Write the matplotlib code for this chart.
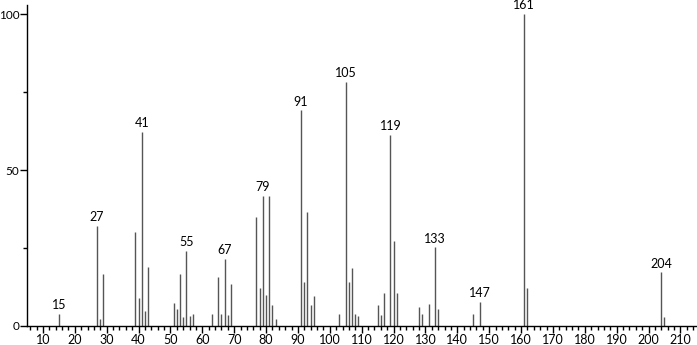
import matplotlib.pyplot as plt
from matplotlib.ticker import MultipleLocator

# m/z and relative abundance
mz = [15, 27, 28, 29, 39, 40, 41, 42, 43,
      51, 52, 53, 54, 55, 56, 57, 63, 65, 66, 67, 68, 69,
      77, 78, 79, 80, 81, 82, 83, 91, 92, 93, 94, 95,
      103, 105, 106, 107, 108, 109, 115, 116, 117, 119, 120, 121,
      128, 129, 131, 133, 134, 145, 147, 161, 162, 204, 205]
intensity = [3.8, 32.0, 2.2, 16.7, 30.0, 9.0, 62.3, 4.9, 19.0,
             7.4, 5.5, 16.7, 2.8, 24.1, 3.2, 3.8, 4.0, 15.8, 3.8, 21.5, 3.4, 13.5,
             35.0, 12.2, 41.6, 10.0, 41.6, 6.7, 2.2, 69.1, 14.1, 36.6, 6.6, 9.6,
             3.8, 78.2, 14.1, 18.7, 3.8, 3.2, 6.6, 3.4, 10.6, 61.3, 27.2, 10.5,
             6.1, 3.8, 7.2, 25.2, 5.6, 3.8, 7.7, 100.0, 12.3, 17.2, 2.8]
labelled = [15, 27, 41, 55, 67, 79, 91, 105, 119, 133, 147, 161, 204]

plt.rcParams['font.family'] = ['Lato', 'DejaVu Sans']

fig = plt.figure(figsize=(6.97, 3.45), dpi=100)
ax = fig.add_axes([27 / 697, 19 / 345, 1 - 27 / 697, 321 / 345])

ax.vlines(mz, 0, intensity, color='#555555', lw=1.0)

for m in labelled:
    h = intensity[mz.index(m)]
    ax.annotate(str(m), (m, h), xytext=(0, 2), textcoords='offset points',
                ha='center', va='bottom', fontsize=9)

ax.set_xlim(5, 215.2)
ax.set_ylim(0, 102.9)
ax.set_xticks(range(10, 211, 10))
ax.xaxis.set_minor_locator(MultipleLocator(2))
ax.set_yticks([0, 50, 100])
ax.yaxis.set_minor_locator(MultipleLocator(25))

for s in ('top', 'right'):
    ax.spines[s].set_visible(False)
ax.spines['left'].set_linewidth(1.0)
ax.spines['bottom'].set_linewidth(1.0)
ax.tick_params(axis='both', which='major', length=5, width=1, labelsize=9, pad=1)
ax.tick_params(axis='y', which='major', labelsize=8.5, pad=0.5)
ax.tick_params(axis='both', which='minor', length=3, width=1)

fig.savefig('out.png', dpi=100)
